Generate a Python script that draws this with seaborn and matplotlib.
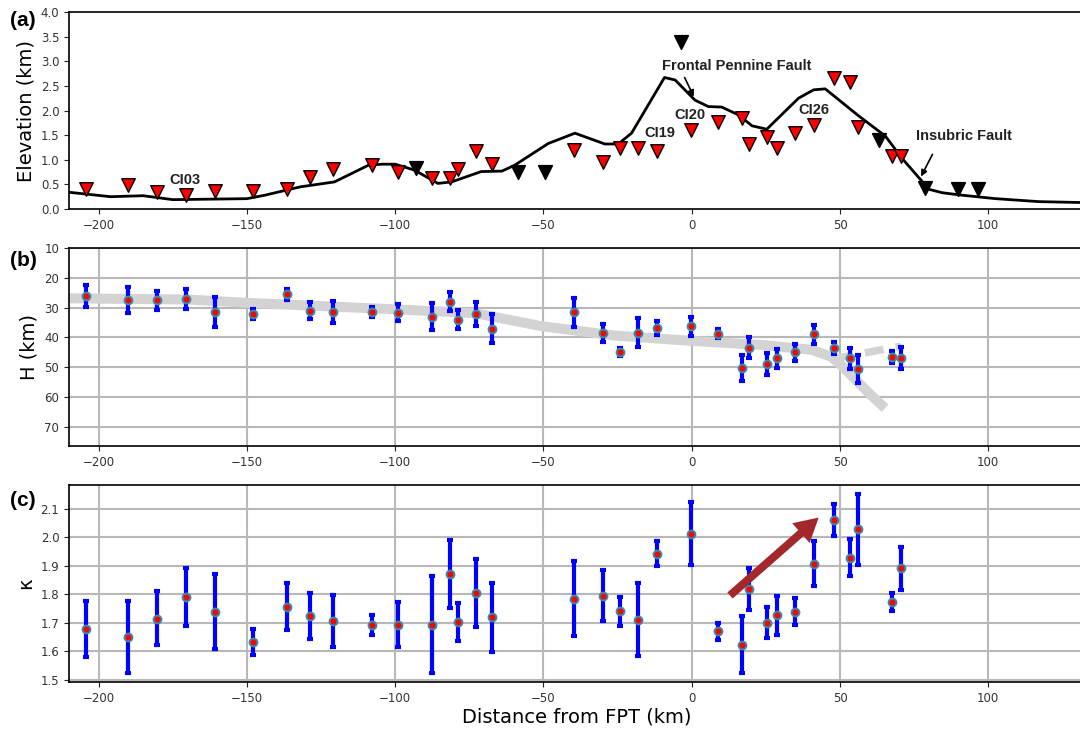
import matplotlib
matplotlib.use("Agg")
import matplotlib.pyplot as plt
import numpy as np
import pandas as pd
import seaborn as sns

plt.rcParams["font.size"] = 8.5

# station distance from FPT (km)
dist = [-204.2, -190.1, -180.2, -170.5, -160.7, -148.1, -136.6, -128.8, -121.0, -107.8,
        -99.1, -87.6, -81.6, -78.7, -72.7, -67.2, -39.8, -30.0, -24.2, -18.0,
        -11.6, -0.2, 9.0, 16.9, 19.3, 25.3, 28.9, 34.8, 41.1, 48.0,
        53.3, 56.2, 67.5, 70.5]
# station elevation (km)
elev = [0.41, 0.49, 0.35, 0.28, 0.37, 0.37, 0.41, 0.66, 0.81, 0.89,
        0.745, 0.62, 0.62, 0.81, 1.18, 0.91, 1.20, 0.96, 1.245, 1.23,
        1.18, 1.60, 1.76, 1.84, 1.32, 1.456, 1.245, 1.55, 1.71, 2.67,
        2.57, 1.66, 1.08, 1.08]
# stations without results
dist_nores = [-92.9, -58.6, -49.5, -3.6, 63.1, 78.8, 89.9, 96.6]
elev_nores = [0.83, 0.76, 0.76, 3.39, 1.40, 0.42, 0.40, 0.40]

# topography profile
topo_x = [-210, -196, -185, -175, -150, -144, -132, -120.5, -109, -104.5, -100, -93.5,
          -85.6, -81, -71, -64, -59.7, -48.4, -39.4, -29.3, -24.8, -20.3, -9.2, -5.6,
          1.1, 5.6, 10.1, 15.8, 20.3, 25.3, 36, 41.1, 45, 56.3, 65.3, 70.9, 80, 84.5,
          91.2, 102.5, 117, 132.6]
topo_z = [0.34, 0.25, 0.27, 0.19, 0.21, 0.28, 0.45, 0.55, 0.89, 0.91, 0.91, 0.79,
          0.52, 0.55, 0.76, 0.77, 0.89, 1.33, 1.54, 1.32, 1.32, 1.54, 2.67, 2.62,
          2.21, 2.08, 2.07, 1.91, 1.69, 1.62, 2.25, 2.42, 2.44, 1.89, 1.48, 1.03, 0.40, 0.33,
          0.28, 0.21, 0.15, 0.13]

# crustal thickness H (km) with bounds
H = [26.1, 27.6, 27.6, 27.1, 31.5, 32.3, 25.5, 31.2, 31.5, 31.5,
     31.7, 33.2, 28.1, 34.1, 32.2, 37.1, 31.6, 38.5, 44.9, 38.5,
     36.8, 36.1, 38.8, 50.2, 43.5, 48.9, 47.0, 44.9, 39.0, 43.5,
     47.0, 50.5, 46.6, 47.0]
H_lo = [22.4, 23.2, 24.3, 23.9, 26.6, 30.6, 23.7, 28.2, 27.8, 29.8,
        28.9, 28.6, 24.9, 30.8, 28.2, 32.2, 26.9, 35.5, 43.5, 33.6,
        34.4, 33.1, 37.2, 45.8, 40.0, 45.4, 43.9, 42.1, 35.7, 41.6,
        43.6, 46.0, 44.7, 43.3]
H_hi = [29.9, 31.8, 30.8, 30.4, 36.6, 33.9, 27.5, 33.9, 35.3, 33.3,
        34.4, 37.5, 31.0, 37.3, 36.2, 42.0, 36.4, 41.6, 46.3, 43.3,
        39.1, 39.4, 40.2, 54.6, 46.9, 52.5, 50.2, 47.8, 42.2, 45.6,
        50.5, 55.2, 48.7, 50.7]

# Moho depth reference curve
band_x = [-210, -170, -150, -100, -73, -51, -26, 0, 24, 40.5, 47, 50.5, 55, 60, 65.2]
band_H = [26.9, 27.3, 28.4, 30.6, 31.9, 36.2, 39.4, 41.2, 42.6, 44.2, 46.5, 49.5, 54.0, 59.0, 63.8]
dash_x = [48, 58, 70.5]
dash_H = [47.2, 45.3, 43.0]

# Vp/Vs ratio kappa with bounds
kappa = [1.677, 1.652, 1.715, 1.790, 1.739, 1.633, 1.755, 1.723, 1.708, 1.694,
         1.694, 1.692, 1.871, 1.703, 1.804, 1.720, 1.783, 1.795, 1.741, 1.711,
         1.943, 2.013, 1.671, 1.622, 1.818, 1.699, 1.726, 1.739, 1.907, 2.061,
         1.929, 2.028, 1.774, 1.891]
k_lo = [1.579, 1.524, 1.622, 1.689, 1.608, 1.587, 1.675, 1.642, 1.617, 1.658,
        1.614, 1.524, 1.751, 1.636, 1.684, 1.598, 1.653, 1.705, 1.689, 1.584,
        1.900, 1.903, 1.639, 1.524, 1.746, 1.646, 1.658, 1.691, 1.828, 2.005,
        1.863, 1.904, 1.742, 1.814]
k_hi = [1.778, 1.778, 1.811, 1.894, 1.870, 1.680, 1.838, 1.803, 1.799, 1.729,
        1.774, 1.863, 1.991, 1.771, 1.924, 1.841, 1.917, 1.884, 1.792, 1.839,
        1.987, 2.123, 1.701, 1.723, 1.891, 1.755, 1.793, 1.786, 1.987, 2.116,
        1.995, 2.151, 1.805, 1.967]

df = pd.DataFrame({"dist": dist, "elev": elev, "H": H, "H_lo": H_lo, "H_hi": H_hi,
                   "kappa": kappa, "k_lo": k_lo, "k_hi": k_hi})

fig = plt.figure(figsize=(10.8, 7.29), dpi=100)
ax1 = fig.add_axes([0.0639, 0.7133, 0.9407, 0.2702])
ax2 = fig.add_axes([0.0639, 0.3882, 0.9407, 0.2716])
ax3 = fig.add_axes([0.0639, 0.0645, 0.9407, 0.2702])

xlim = (-210.0, 132.6)
xt = np.arange(-200, 101, 50)
for ax in (ax1, ax2, ax3):
    ax.set_xlim(*xlim)
    ax.set_xticks(xt)
    for s in ax.spines.values():
        s.set_linewidth(1.2)
    ax.tick_params(labelsize=8.5, colors="#222222", labelcolor="#333333")

ann = dict(fontfamily="Liberation Sans", fontweight="bold", fontsize=10.5, color="#222222")

# (a) elevation
sns.lineplot(x=topo_x, y=topo_z, color="black", linewidth=2, ax=ax1, zorder=2)
sns.scatterplot(data=df, x="dist", y="elev", marker="v", s=95, color="red",
                edgecolor="black", linewidth=1, ax=ax1, zorder=3)
sns.scatterplot(x=dist_nores, y=elev_nores, marker="v", s=95, color="black",
                edgecolor="black", linewidth=1.2, ax=ax1, zorder=3)
ax1.set_ylim(0, 4)
ax1.set_yticks(np.arange(0, 4.01, 0.5))
ax1.set_ylabel("Elevation (km)", fontsize=14)
ax1.set_xlabel("")
ax1.text(-170.9, 0.59, "CI03", ha="center", va="center", **ann)
ax1.text(-10.8, 1.54, "CI19", ha="center", va="center", **ann)
ax1.text(-0.7, 1.91, "CI20", ha="center", va="center", **ann)
ax1.text(41.2, 2.02, "CI26", ha="center", va="center", **ann)
ax1.text(-10.1, 2.91, "Frontal Pennine Fault", ha="left", va="center", **ann)
ax1.text(75.7, 1.48, "Insubric Fault", ha="left", va="center", **ann)
ax1.annotate("", xy=(1.1, 2.23), xytext=(-2.8, 2.72),
             arrowprops=dict(arrowstyle="-|>", color="black", lw=1.2, mutation_scale=9))
ax1.annotate("", xy=(76.9, 0.61), xytext=(81.6, 1.16),
             arrowprops=dict(arrowstyle="-|>", color="black", lw=1.2, mutation_scale=9))

# (b) crustal thickness
ax2.grid(True, color="#b8b8b8", linewidth=1.5, zorder=0)
ax2.set_axisbelow(True)
ax2.plot(band_x, band_H, color="#d3d3d3", linewidth=7.2, solid_capstyle="butt", zorder=1)
ax2.plot(dash_x, dash_H, color="#d3d3d3", linewidth=5.5, dashes=(2.5, 1.6), zorder=1)
ax2.errorbar(df["dist"], df["H"], yerr=[df["H"] - df["H_lo"], df["H_hi"] - df["H"]],
             fmt="none", ecolor="blue", elinewidth=3, capsize=2, capthick=3, zorder=2)
sns.scatterplot(data=df, x="dist", y="H", s=32, color="red", edgecolor="#3a8aa8",
                linewidth=1.4, ax=ax2, zorder=3)
ax2.set_ylim(76.5, 10)
ax2.set_yticks(np.arange(10, 71, 10))
ax2.set_ylabel("H (km)", fontsize=14)
ax2.set_xlabel("")

# (c) kappa
ax3.grid(True, color="#b8b8b8", linewidth=1.5, zorder=0)
ax3.set_axisbelow(True)
ax3.errorbar(df["dist"], df["kappa"], yerr=[df["kappa"] - df["k_lo"], df["k_hi"] - df["kappa"]],
             fmt="none", ecolor="blue", elinewidth=3, capsize=2, capthick=3, zorder=2)
sns.scatterplot(data=df, x="dist", y="kappa", s=32, color="red", edgecolor="#3a8aa8",
                linewidth=1.4, ax=ax3, zorder=3)
ax3.annotate("", xy=(42.8, 2.069), xytext=(12.9, 1.796),
             arrowprops=dict(width=5.8, headwidth=19, headlength=17, color="#a3282b", lw=0))
ax3.set_ylim(1.493, 2.183)
ax3.set_yticks(np.arange(1.5, 2.11, 0.1))
ax3.set_ylabel("κ", fontsize=14)
ax3.set_xlabel("Distance from FPT (km)", fontsize=14, labelpad=2)

lab = dict(fontfamily="Liberation Sans", fontweight="bold", fontsize=15, ha="center", va="center")
fig.text(23 / 1080, 1 - 20 / 729, "(a)", **lab)
fig.text(23 / 1080, 1 - 260 / 729, "(b)", **lab)
fig.text(23 / 1080, 1 - 500 / 729, "(c)", **lab)

fig.savefig("out.png", dpi=100)
